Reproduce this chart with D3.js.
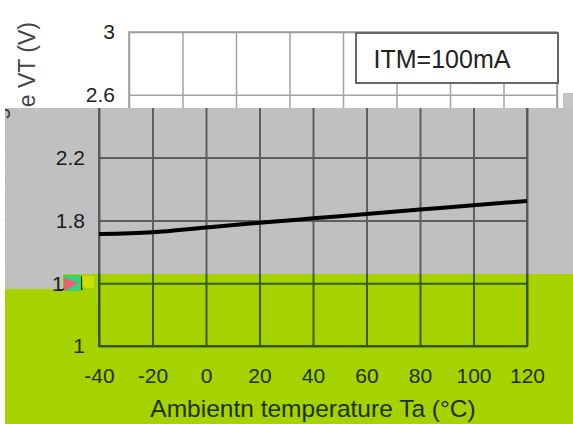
<!DOCTYPE html>
<html>
<head>
<meta charset="utf-8">
<script src="https://cdn.jsdelivr.net/npm/d3@7"></script>
<style>
  body { margin: 0; background: #fff; }
  text { font-family: "Liberation Sans", Arial, sans-serif; }
</style>
</head>
<body>
<div class="canvas"></div>
<script>
// chart values
const temps = [-40, -20, 0, 20, 40, 60, 80, 100, 120];
const vt = [1.713, 1.724, 1.755, 1.785, 1.813, 1.841, 1.869, 1.897, 1.924];
const xTicks = [-40, -20, 0, 20, 40, 60, 80, 100, 120];
const yTicks = [1, 1.4, 1.8, 2.2, 2.6, 3];
const legendText = 'ITM=100mA';
const xTitle = 'Ambientn temperature Ta (°C)';
const yTitle = 'Forward voltage VT (V)';

const W = 573, H = 424;
const margin = {top: 32, right: 46, bottom: 78, left: 99};
const graphWidth = W - margin.left - margin.right;
const graphHeight = H - margin.top - margin.bottom;

const svg = d3.select('.canvas')
  .append('svg')
    .attr('width', W)
    .attr('height', H);

const x = d3.scaleLinear().domain([-40, 120]).range([0, graphWidth]);
const y = d3.scaleLinear().domain([1, 3]).range([graphHeight, 0]);

// the picture is pieced from three copies of the chart
const themes = {
  white: {bg: null, grid: '#a3a3a3', gw: 1.5, border: '#9a9a9a', text: '#222'},
  gray: {bg: '#c0c0c0', grid: '#5e5e5e', gw: 2, border: '#5a5a5a', text: '#1a1a1a'},
  green: {bg: '#a6d200', grid: '#3b5c00', gw: 2, border: '#355400', text: '#1c3000'}
};

const defs = svg.append('defs');
const clips = [
  {id: 'clipTop', x: 0, y: 0, w: W, h: 108},
  {id: 'clipMid', x: 5, y: 108, w: W - 5, h: 166},
  {id: 'clipBot', x: 5, y: 274, w: W - 5, h: H - 274}
];
clips.forEach(c => {
  defs.append('clipPath').attr('id', c.id)
    .append('rect').attr('x', c.x).attr('y', c.y).attr('width', c.w).attr('height', c.h);
});

function drawChart(clipId, theme, shiftX) {
  const t = themes[theme];
  const outer = svg.append('g').attr('clip-path', `url(#${clipId})`);
  if (t.bg) {
    outer.append('rect').attr('x', 0).attr('y', 0).attr('width', W).attr('height', H).attr('fill', t.bg);
  }
  const graph = outer.append('g')
    .attr('transform', `translate(${margin.left + shiftX},${margin.top})`);

  // grid + y labels
  const yAxis = d3.axisLeft(y).tickValues(yTicks).tickSize(-graphWidth).tickPadding(14)
    .tickFormat(d => String(d));
  const gy = graph.append('g').call(yAxis);
  gy.select('.domain').remove();
  gy.selectAll('line').attr('stroke', t.grid).attr('stroke-width', t.gw);
  gy.selectAll('text').attr('fill', t.text).style('font-size', '21px')
    .style('font-family', '"Liberation Sans", Arial, sans-serif');

  const xAxis = d3.axisBottom(x).tickValues(xTicks).tickSize(-graphHeight).tickPadding(22)
    .tickFormat(d => String(d));
  const gx = graph.append('g').attr('transform', `translate(0,${graphHeight})`).call(xAxis);
  gx.select('.domain').remove();
  gx.selectAll('line').attr('stroke', t.grid).attr('stroke-width', t.gw);
  gx.selectAll('text').attr('fill', t.text).style('font-size', '21px')
    .style('font-family', '"Liberation Sans", Arial, sans-serif');

  graph.append('rect')
    .attr('width', graphWidth).attr('height', graphHeight)
    .attr('fill', 'none').attr('stroke', t.border).attr('stroke-width', t.gw);

  // legend box
  graph.append('rect')
    .attr('x', 227).attr('y', 1).attr('width', 202).attr('height', 50)
    .attr('fill', '#fff').attr('stroke', '#666').attr('stroke-width', 2);
  graph.append('text')
    .attr('x', 313).attr('y', 36)
    .attr('text-anchor', 'middle')
    .attr('fill', '#222').style('font-size', '25px')
    .text(legendText);

  const line = d3.line()
    .x((d, i) => x(temps[i]))
    .y(d => y(d))
    .curve(d3.curveMonotoneX);
  graph.append('path')
    .datum(vt)
    .attr('d', line)
    .attr('fill', 'none')
    .attr('stroke', '#000')
    .attr('stroke-width', 4);

  // titles
  graph.append('text')
    .attr('x', graphWidth / 2).attr('y', graphHeight + 71)
    .attr('text-anchor', 'middle')
    .attr('fill', t.text).style('font-size', '24.5px')
    .text(xTitle);
  outer.append('text')
    .attr('transform', `translate(${5 + shiftX},22) rotate(-90)`)
    .attr('text-anchor', 'end')
    .attr('fill', '#444').style('font-size', '23px')
    .text(yTitle);
}

drawChart('clipTop', 'white', 30);
drawChart('clipMid', 'gray', 0);
drawChart('clipBot', 'green', 0);

// leftover bits of the broken picture
svg.append('rect').attr('x', 563).attr('y', 93).attr('width', 10).attr('height', 15).attr('fill', '#c4c4c8');
svg.append('rect').attr('x', 5).attr('y', 274).attr('width', 58).attr('height', 15).attr('fill', '#c0c0c0');
svg.append('text').attr('x', 52).attr('y', 291).attr('fill', '#1a1a1a').style('font-size', '21px').text('1');
svg.append('rect').attr('x', 64).attr('y', 275).attr('width', 17).attr('height', 16).attr('fill', '#3ad07a');
svg.append('path').attr('d', 'M64,278 L78,283 L64,291 Z').attr('fill', '#f05c78');
svg.append('rect').attr('x', 82).attr('y', 276).attr('width', 12).attr('height', 12).attr('fill', '#d6e600').attr('opacity', 0.7);
</script>
</body>
</html>
